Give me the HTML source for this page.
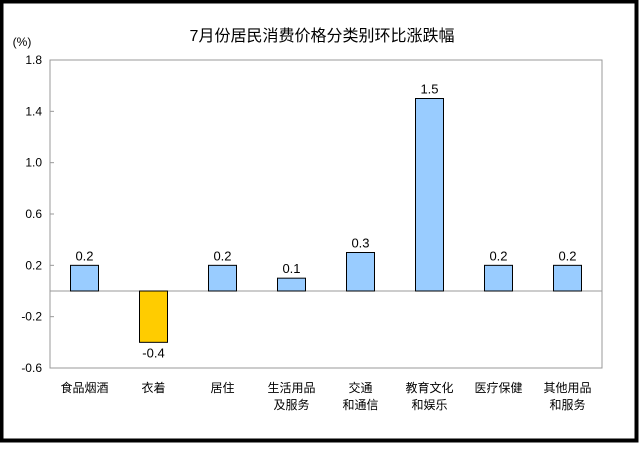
<!DOCTYPE html>
<html><head><meta charset="utf-8"><style>
html,body{margin:0;padding:0;background:#fff}
svg text{font-family:"Liberation Sans","Noto Sans CJK SC",sans-serif}
</style></head><body>
<svg id="chart" width="640" height="444" viewBox="0 0 640 444" xmlns="http://www.w3.org/2000/svg">
<rect x="1.5" y="1.5" width="635" height="439" fill="#fff" stroke="#000" stroke-width="4"/>
<text x="322" y="41" text-anchor="middle" font-size="16" fill="#000">7月份居民消费价格分类别环比涨跌幅</text>
<text x="22" y="46" text-anchor="middle" font-size="12" font-family="Liberation Serif">(%)</text>
<rect x="50" y="60" width="552" height="308" fill="none" stroke="#999" stroke-width="1"/>
<g id="yticks"></g><g id="bars"></g><g id="xlabels"></g>
</svg>
<script>
const categories=[["食品烟酒"],["衣着"],["居住"],["生活用品","及服务"],["交通","和通信"],["教育文化","和娱乐"],["医疗保健"],["其他用品","和服务"]];
const values=[0.2,-0.4,0.2,0.1,0.3,1.5,0.2,0.2];
const valueLabels=["0.2","-0.4","0.2","0.1","0.3","1.5","0.2","0.2"];
const yTicks=[1.8,1.4,1.0,0.6,0.2,-0.2,-0.6];
const yTickLabels=["1.8","1.4","1.0","0.6","0.2","-0.2","-0.6"];
const NS="http://www.w3.org/2000/svg";
const yMin=-0.6,yMax=1.8,plotTop=60,plotBot=368,plotLeft=50,step=69,bw=28;
const yScale=v=>plotBot-(v-yMin)/(yMax-yMin)*(plotBot-plotTop);
const xScale=i=>plotLeft+step*(i+0.5);
function mk(t,a,p){const e=document.createElementNS(NS,t);for(const k in a)e.setAttribute(k,a[k]);p.appendChild(e);return e;}
const gy=document.getElementById('yticks');
yTicks.forEach((v,i)=>{
 const t=mk('text',{x:42,y:yScale(v)+4,'text-anchor':'end','font-size':'12','font-family':'Liberation Serif'},gy);
 
 
 t.textContent=yTickLabels[i];
 const l=mk('line',{x1:plotLeft,x2:plotLeft+4,y1:yScale(v),y2:yScale(v),stroke:'#999'},gy);
 
 
});
const z=mk('line',{x1:plotLeft,x2:plotLeft+552,y1:yScale(0),y2:yScale(0),stroke:'#999'},gy);


const gb=document.getElementById('bars'),gx=document.getElementById('xlabels');
values.forEach((v,i)=>{
 const y0=yScale(0),y1=yScale(v);
 const r=mk('rect',{x:xScale(i)-bw/2,y:Math.min(y0,y1),width:bw,height:Math.abs(y1-y0),fill:v<0?'#ffcc00':'#99ccff',stroke:'#000','stroke-width':1},gb);
 
 
 const t=mk('text',{x:xScale(i),y:v<0?y1+15:y1-5,'text-anchor':'middle','font-size':'13'},gb);
 
 
 t.textContent=valueLabels[i];
 categories[i].forEach((s,j)=>{
  const c=mk('text',{x:xScale(i),y:392+j*17,'text-anchor':'middle','font-size':'12'},gx);
  
  
  c.textContent=s;
 });
});
</script>
</body></html>
